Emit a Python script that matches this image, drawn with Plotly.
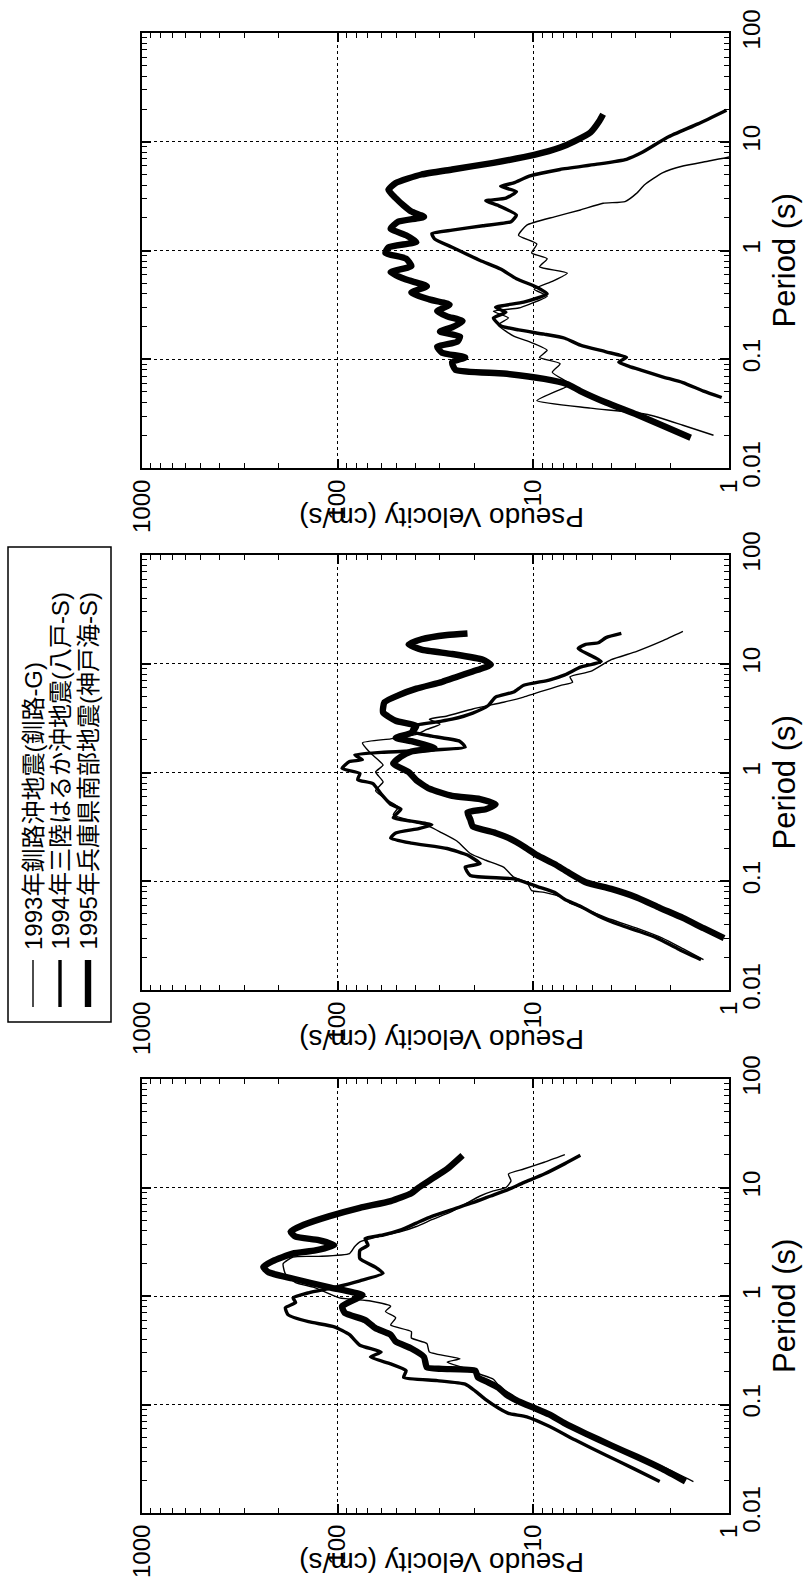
import plotly.graph_objects as go

# Pseudo-velocity response spectra (h=5%), three events, three stations.
# Each curve: period (s) and pseudo velocity (cm/s).

# ---------- panel A (upper) ----------
a_1993_T = [0.020, 0.0247, 0.031, 0.0355, 0.0416, 0.055, 0.059, 0.076, 0.091, 0.104, 0.121, 0.145,
            0.163, 0.207, 0.24, 0.276, 0.296, 0.32, 0.38, 0.44, 0.52, 0.62, 0.71, 0.84, 0.95, 1.15,
            1.38, 1.71, 2.04, 2.36, 2.72, 2.82, 3.37, 4.03, 5.18, 5.98, 6.65, 7.25, 8.0]
a_1993_V = [1.2, 1.72, 2.6, 5.1, 9.6, 6.9, 6.5, 8.0, 7.3, 9.3, 8.5, 10.5,
            12.6, 15.1, 13.4, 16.0, 11.9, 10.5, 8.5, 9.9, 8.0, 6.7, 9.3, 8.5, 10.2, 9.6,
            11.9, 10.8, 7.8, 5.75, 4.4, 3.4, 2.96, 2.7, 2.19, 1.72, 1.27, 1.0, 0.85]

a_1994_T = [0.0445, 0.051, 0.061, 0.069, 0.079, 0.086, 0.094, 0.104, 0.117, 0.135, 0.156, 0.17,
            0.186, 0.203, 0.24, 0.27, 0.30, 0.335, 0.40, 0.46, 0.55, 0.675, 0.81, 1.07, 1.28,
            1.43, 1.54, 1.69, 1.84, 2.12, 2.59, 2.86, 3.03, 3.49, 3.89, 4.18, 4.82, 5.56, 6.19,
            6.9, 7.95, 11.0, 14.6, 19.5]
a_1994_V = [1.09, 1.35, 1.72, 2.19, 2.79, 3.24, 3.66, 3.34, 4.25, 5.75, 6.9, 8.8,
            11.9, 14.7, 16.0, 13.8, 15.6, 11.2, 8.5, 9.6, 12.2, 14.7, 18.7, 26, 32,
            33, 26, 18.1, 13.0, 12.2, 15.1, 17.5, 13.8, 12.2, 14.7, 12.6, 10.5, 7.3, 4.8,
            3.34, 2.79, 2.06, 1.44, 1.03]

a_1995_T = [0.019, 0.0246, 0.031, 0.040, 0.051, 0.059, 0.066, 0.074, 0.080, 0.094, 0.104, 0.115,
            0.13, 0.145, 0.162, 0.18, 0.197, 0.224, 0.248, 0.276, 0.318, 0.355, 0.41, 0.47, 0.54,
            0.63, 0.72, 0.84, 0.95, 1.07, 1.2, 1.38, 1.59, 1.84, 2.04, 2.28, 2.59, 3.03, 3.62,
            4.18, 5.0, 5.56, 6.4, 7.57, 8.85, 10.2, 12.2, 15.5, 17.9]
a_1995_V = [1.57, 2.19, 2.96, 4.25, 5.75, 6.7, 8.8, 14.2, 25, 26, 22.3, 29.3,
            31, 24.5, 23.7, 30, 26, 23, 27.6, 31, 26.8, 34, 42, 35, 44.7,
            53.6, 42, 44.7, 57, 55, 39.6, 44.7, 53.6, 49, 36.2, 42, 46, 50.5, 55,
            50.5, 37.3, 26, 16.0, 9.9, 7.3, 6.1, 5.1, 4.6, 4.4]

# ---------- panel B (middle) ----------
b_1993_T = [0.019, 0.024, 0.030, 0.037, 0.0445, 0.053, 0.063, 0.071, 0.079, 0.082, 0.098, 0.109,
            0.135, 0.156, 0.18, 0.233, 0.278, 0.32, 0.37, 0.41, 0.48, 0.55, 0.68, 0.82, 1.01,
            1.17, 1.51, 1.87, 2.04, 2.24, 2.49, 2.78, 3.09, 3.31, 3.84, 4.43, 4.94, 6.3, 6.77,
            7.6, 8.5, 10.9, 13.0, 16.2, 19.8]
b_1993_V = [1.35, 1.72, 2.19, 2.96, 4.0, 5.1, 6.5, 7.1, 8.8, 10.2, 10.8, 12.6,
            14.2, 17.5, 21, 24.5, 29.3, 34, 44.7, 52, 49, 55, 64, 58.6, 64,
            58.6, 68, 74.7, 53.6, 39.6, 35, 30, 34, 27.6, 20.4, 14.2, 11.2, 7.3, 6.3,
            6.5, 5.1, 4.0, 2.96, 2.19, 1.72]

b_1994_T = [0.019, 0.024, 0.030, 0.0345, 0.040, 0.048, 0.059, 0.068, 0.079, 0.088, 0.105, 0.113,
            0.135, 0.145, 0.174, 0.20, 0.224, 0.25, 0.278, 0.305, 0.33, 0.357, 0.384, 0.46,
            0.51, 0.635, 0.79, 0.86, 0.98, 1.09, 1.26, 1.31, 1.45, 1.53, 1.6, 1.71, 1.94, 2.16,
            2.4, 2.68, 2.92, 3.09, 3.52, 4.13, 4.94, 5.5, 6.35, 7.08, 7.9, 9.3, 10.5, 13.8,
            15.1, 15.6, 17.4, 19.0]
b_1994_V = [1.39, 1.83, 2.33, 2.87, 3.66, 4.66, 5.75, 6.9, 7.8, 9.3, 12.6, 21,
            22.3, 18.7, 21.7, 27.6, 42, 53.6, 50.5, 38.5, 33, 42, 52, 47.5,
            53.6, 60, 66, 79, 77, 95, 87, 74.7, 81.7, 60, 35, 22.3, 23.8, 33,
            42, 40.8, 31, 26, 20.4, 17, 15.6, 12.6, 11.2, 8.3, 6.9, 5.75, 4.5, 5.9,
            5.4, 4.66, 4.25, 3.55]

b_1995_T = [0.030, 0.037, 0.046, 0.057, 0.071, 0.085, 0.098, 0.122, 0.144, 0.174, 0.209, 0.25,
            0.278, 0.32, 0.37, 0.43, 0.46, 0.51, 0.57, 0.61, 0.71, 0.85, 1.01, 1.21, 1.4,
            1.56, 1.68, 1.94, 2.08, 2.32, 2.68, 2.99, 3.57, 4.43, 5.12, 5.9, 6.8, 7.6, 8.5,
            9.8, 10.9, 12.3, 13.5, 15.1, 16.8, 18.4, 19.0]
b_1995_V = [1.06, 1.35, 1.72, 2.26, 2.96, 4.0, 5.4, 6.7, 7.8, 9.6, 11.2, 13.4,
            15.6, 20.4, 21, 21.7, 17.5, 15.6, 18.7, 26, 34, 39.6, 43.4, 52, 47.5,
            42, 32, 42, 50.5, 42, 39.6, 50.5, 58.6, 57.6, 49, 39.6, 29.3, 24.5, 20.4,
            16.5, 18.1, 26, 37.3, 43.4, 37.3, 27.6, 21.7]

# ---------- panel C (lower) ----------
c_1993_T = [0.0195, 0.0255, 0.034, 0.045, 0.061, 0.075, 0.087, 0.1, 0.12, 0.143, 0.171, 0.19,
            0.22, 0.246, 0.264, 0.305, 0.365, 0.41, 0.47, 0.54, 0.63, 0.72, 0.805, 0.90, 0.96,
            1.2, 1.33, 1.6, 1.98, 2.29, 2.32, 2.46, 2.84, 3.16, 3.52, 3.92, 4.37, 5.05, 6.03,
            7.24, 8.35, 9.3, 10.0, 11.5, 13.3, 14.8, 17.1, 20.1]
c_1993_V = [1.52, 2.06, 2.96, 4.25, 6.1, 7.8, 9.3, 11.2, 12.6, 14.7, 16.0, 18.7,
            23, 27.6, 23.7, 34, 35, 42, 42, 53.6, 50.5, 57, 53.6, 68, 98,
            132, 164, 185, 190, 169, 125, 87, 82, 77, 62, 47.5, 39.6, 33, 26,
            21.7, 18.7, 16, 13.8, 13, 13.4, 11.2, 8.8, 6.9]

c_1994_T = [0.0195, 0.0255, 0.034, 0.047, 0.063, 0.077, 0.083, 0.093, 0.111, 0.133, 0.154, 0.166,
            0.178, 0.205, 0.237, 0.274, 0.305, 0.352, 0.44, 0.52, 0.58, 0.67, 0.78, 0.87, 0.96,
            1.07, 1.2, 1.38, 1.62, 1.84, 2.21, 2.63, 2.94, 3.39, 3.65, 4.07, 4.7, 5.42, 6.27,
            7.24, 8.35, 9.6, 11.1, 13.3, 16.6, 19.8]
c_1994_V = [2.26, 3.05, 4.25, 6.1, 8.3, 10.8, 13.4, 15.1, 17.5, 19.8, 22.3, 31,
            46, 44.7, 53.6, 68, 60, 77, 87, 104, 141, 179, 185, 164, 169,
            141, 104, 77, 58.6, 64, 77, 77, 70, 72.4, 58.6, 47.5, 39.6, 33, 26,
            20.4, 16.5, 13.4, 11.2, 8.8, 6.9, 5.75]

c_1995_T = [0.0195, 0.0255, 0.033, 0.042, 0.054, 0.067, 0.081, 0.093, 0.107, 0.124, 0.143, 0.16,
            0.178, 0.205, 0.213, 0.22, 0.274, 0.328, 0.38, 0.44, 0.505, 0.60, 0.70, 0.805, 0.93,
            1.02, 1.2, 1.45, 1.65, 1.85, 2.1, 2.46, 2.63, 2.94, 3.28, 3.52, 3.92, 4.53, 5.42,
            6.5, 7.5, 8.85, 10.0, 12.0, 14.8, 19.8]
c_1995_V = [1.67, 2.19, 2.96, 4.0, 5.4, 6.9, 8.3, 9.9, 11.9, 13.8, 15.1, 17,
            19.2, 19.8, 29.3, 35, 36.2, 42, 50.5, 53.6, 64, 72.4, 92, 95, 81.7,
            74.7, 110, 170, 225, 240, 215, 170, 130, 104, 125, 164, 174, 149, 111,
            77, 53.6, 42, 38.5, 33, 27.6, 23]

EVENT_NAMES = ["1993年釧路沖地震(釧路-G)", "1994年三陸はるか沖地震(八戸-S)", "1995年兵庫県南部地震(神戸海-S)"]
EVENT_WIDTHS = [1.4, 3.4, 6.4]

PERIOD_TICKS = [0.01, 0.1, 1, 10, 100]
PERIOD_LABELS = ["0.01", "0.1", "1", "10", "100"]
VEL_TICKS = [1, 10, 100, 1000]
VEL_LABELS = ["1", "10", "100", "1000"]

panels = [
    [(a_1993_T, a_1993_V), (a_1994_T, a_1994_V), (a_1995_T, a_1995_V)],
    [(b_1993_T, b_1993_V), (b_1994_T, b_1994_V), (b_1995_T, b_1995_V)],
    [(c_1993_T, c_1993_V), (c_1994_T, c_1994_V), (c_1995_T, c_1995_V)],
]

W, H = 805, 1586
FRAME_X = (142, 729)                      # pixel extent of every frame
FRAME_Y = [(33, 468), (555, 990), (1079, 1513)]

def px(x):
    return x / W

def py(y):
    return 1 - y / H

LATIN = "Liberation Sans, Arial, sans-serif"
CJK = "Liberation Sans, Noto Sans CJK JP, sans-serif"

fig = go.Figure()
layout = dict(
    width=W, height=H, margin=dict(l=0, r=0, t=0, b=0, autoexpand=False),
    paper_bgcolor="white", plot_bgcolor="white", showlegend=False,
    annotations=[], shapes=[],
)

for i, curves in enumerate(panels):
    n = i + 1
    xa = "x" if n == 1 else f"x{n}"
    ya = "y" if n == 1 else f"y{n}"
    for (T, V), w, name in zip(curves, EVENT_WIDTHS, EVENT_NAMES):
        fig.add_trace(go.Scatter(
            x=V, y=T, mode="lines", name=name, xaxis=xa, yaxis=ya,
            line=dict(color="black", width=w, shape="spline", smoothing=0.5),
            hoverinfo="skip",
        ))

    y0, y1 = FRAME_Y[i]
    common = dict(
        type="log", showline=True, linecolor="black", linewidth=2, mirror="ticks",
        ticks="inside", ticklen=9, tickwidth=1.5, tickcolor="black",
        showgrid=True, gridcolor="black", griddash="dot", gridwidth=1,
        zeroline=False, tickmode="array", tickangle=-90, automargin=False,
        tickfont=dict(family=LATIN, size=24, color="black"),
        minor=dict(ticks="inside", ticklen=5, tickwidth=1.2, tickcolor="black",
                   dtick="D1", showgrid=False),
    )
    layout["xaxis" if n == 1 else f"xaxis{n}"] = dict(
        common, domain=[px(FRAME_X[0]), px(FRAME_X[1])], range=[3, 0],
        tickvals=VEL_TICKS, ticktext=VEL_LABELS, anchor=ya, side="bottom",
    )
    layout["yaxis" if n == 1 else f"yaxis{n}"] = dict(
        common, domain=[py(y1), py(y0)], range=[-2, 2],
        tickvals=PERIOD_TICKS, ticktext=PERIOD_LABELS, anchor=xa, side="right",
    )

    # axis titles, drawn turned with the sheet
    layout["annotations"].append(dict(
        text="Period (s)", x=px(784), y=py((y0 + y1) / 2 + 10), xref="paper", yref="paper",
        showarrow=False, textangle=-90, font=dict(family=LATIN, size=31, color="black"),
        xanchor="center", yanchor="middle",
    ))
    layout["annotations"].append(dict(
        text="Pseudo Velocity (cm/s)", x=px(441), y=py(y1 + 50), xref="paper", yref="paper",
        showarrow=False, textangle=180, font=dict(family=LATIN, size=28, color="black"),
        xanchor="center", yanchor="middle",
    ))

# legend box with vertical samples and labels
layout["shapes"].append(dict(
    type="rect", xref="paper", yref="paper", x0=px(8), x1=px(111), y0=py(1022), y1=py(547),
    line=dict(color="black", width=1.5), fillcolor="rgba(0,0,0,0)",
))
for xc, w, name in zip([33, 60, 88], EVENT_WIDTHS, EVENT_NAMES):
    layout["shapes"].append(dict(
        type="line", xref="paper", yref="paper", x0=px(xc), x1=px(xc), y0=py(1007), y1=py(960),
        line=dict(color="black", width=w),
    ))
    layout["annotations"].append(dict(
        text=name, x=px(xc), y=py(952), xref="paper", yref="paper", showarrow=False,
        textangle=-90, xanchor="center", yanchor="bottom",
        font=dict(family=CJK, size=24, color="black"),
    ))

fig.update_layout(**layout)
fig.write_html("out.html")
